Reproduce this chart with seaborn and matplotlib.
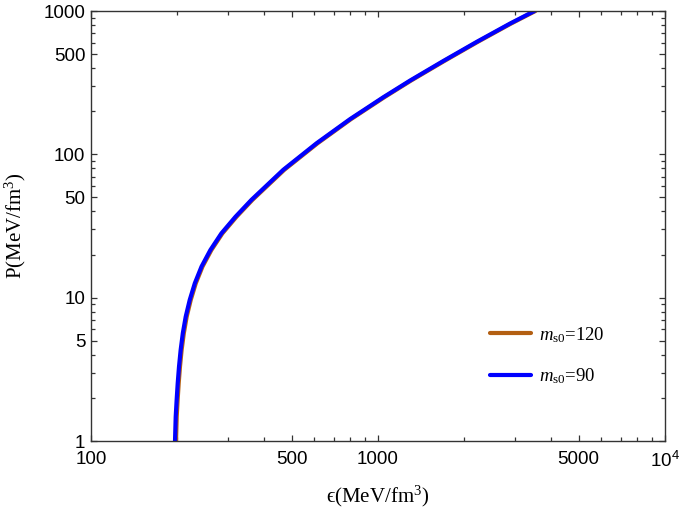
import matplotlib
matplotlib.use('Agg')
import matplotlib.pyplot as plt
from matplotlib.ticker import FixedLocator, FixedFormatter, LogLocator, NullFormatter
import pandas as pd
import seaborn as sns

# pressure / energy density (MeV/fm^3)
p_90 = [1.0, 1.478, 1.932, 2.527, 3.30, 4.315, 5.65, 7.37, 9.64, 12.6, 16.5, 21.5, 28.1, 36.7,
        48.1, 78.0, 119.5, 176, 250, 327, 448, 609, 817, 990, 1000]
eps_90 = [196.2, 197.3, 198.8, 200.5, 202.6, 205.3, 208.9, 213.8, 220.8, 230.0, 242.8, 260.6, 284.7, 318.8,
          362.2, 467.7, 611, 799, 1043, 1293, 1689, 2208, 2884, 3475, 3510]
p_120 = [1.0, 1.478, 1.932, 2.527, 3.30, 4.315, 5.65, 7.37, 9.64, 12.6, 16.5, 21.5, 28.1, 36.7,
         48.1, 78.0, 119.5, 176, 250, 327, 448, 609, 817, 990, 1000]
eps_120 = [197.8, 198.9, 200.4, 202.1, 204.2, 206.9, 210.6, 215.5, 222.6, 231.8, 244.7, 262.7, 287.0, 321.4,
           365.1, 471.5, 616, 805, 1051, 1303, 1702, 2225, 2906, 3502, 3537]

labels = [r'$m_{\rm s0}$=120', r'$m_{\rm s0}$=90']
colors = ['#B35F12', '#0000FF']

x_major = [100, 500, 1000, 5000, 10000]
x_major_lbl = ['100', '500', '1000', '5000', r'$\mathsf{10^{4}}$']
y_major = [1, 5, 10, 50, 100, 500, 1000]
y_major_lbl = ['1', '5', '10', '50', '100', '500', '1000']

df = pd.concat([
    pd.DataFrame({'eps': eps_120, 'P': p_120, 'curve': labels[0]}),
    pd.DataFrame({'eps': eps_90, 'P': p_90, 'curve': labels[1]}),
])

sns.set_style('ticks')
plt.rcParams['font.family'] = ['Liberation Sans', 'DejaVu Sans']
plt.rcParams['mathtext.fontset'] = 'custom'
plt.rcParams['mathtext.rm'] = 'Liberation Serif'
plt.rcParams['mathtext.it'] = 'Liberation Serif:italic'
plt.rcParams['mathtext.sf'] = 'Liberation Sans'
plt.rcParams['mathtext.fallback'] = 'stix'

fig = plt.figure(figsize=(6.81, 5.14), dpi=100)
ax = fig.add_axes([91 / 681, 73 / 514, 574 / 681, 430 / 514])

sns.lineplot(data=df, x='eps', y='P', hue='curve', palette=colors,
             estimator=None, sort=False, linewidth=3.0, ax=ax)

ax.set_xscale('log')
ax.set_yscale('log')
ax.set_xlim(100, 10000)
ax.set_ylim(1, 1000)

ax.xaxis.set_major_locator(FixedLocator(x_major))
ax.xaxis.set_major_formatter(FixedFormatter(x_major_lbl))
ax.yaxis.set_major_locator(FixedLocator(y_major))
ax.yaxis.set_major_formatter(FixedFormatter(y_major_lbl))
ax.xaxis.set_minor_locator(LogLocator(base=10, subs=range(2, 10)))
ax.yaxis.set_minor_locator(LogLocator(base=10, subs=range(2, 10)))
ax.xaxis.set_minor_formatter(NullFormatter())
ax.yaxis.set_minor_formatter(NullFormatter())

ax.tick_params(which='both', direction='in', top=True, right=True,
               color='#333333', width=0.9, labelcolor='black')
ax.tick_params(which='major', length=4.5, labelsize=13.5)
ax.tick_params(axis='x', which='major', pad=7)
ax.tick_params(axis='y', which='major', pad=4)
ax.tick_params(which='minor', length=3)
for s in ax.spines.values():
    s.set_color('#333333')
    s.set_linewidth(1.0)

ax.set_xlabel('\u03f5(MeV/fm$^3$)', family=['Liberation Serif', 'DejaVu Serif'],
              fontsize=15, labelpad=9, color='black')
ax.set_ylabel('P(MeV/fm$^3$)', family=['Liberation Serif', 'DejaVu Serif'],
              fontsize=15, labelpad=11, color='black')

leg = ax.legend(loc='upper left', bbox_to_anchor=(0.695, 0.27), frameon=False,
                fontsize=13.5, handlelength=2.2, handletextpad=0.4,
                labelspacing=1.15, borderpad=0, borderaxespad=0)
for t in leg.get_texts():
    t.set_family('Liberation Serif')
    t.set_color('black')

fig.savefig('out.png', dpi=100)
